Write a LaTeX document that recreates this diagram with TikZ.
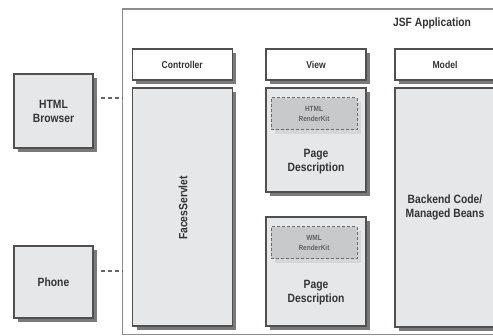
\documentclass[tikz,border=0pt]{standalone}
\usepackage{fontspec}
\usetikzlibrary{shadows}
\newfontfamily\condfont[FakeStretch=0.86]{Liberation Sans}
\definecolor{jsfline}{HTML}{505050}
\definecolor{jsfframe}{HTML}{8C8C8C}
\definecolor{jsffill}{HTML}{E6E7E9}
\definecolor{jsfshade}{HTML}{7A7A7A}
\definecolor{jsfkit}{HTML}{C8C9CB}
\definecolor{jsfkitshade}{HTML}{D6D6D6}
\definecolor{jsftext}{HTML}{333333}

\begin{document}
\begin{tikzpicture}[
  x=1pt, y=-1pt,
  frame/.style={draw=jsfframe, line width=1.2pt, fill=white},
  box/.style={draw=jsfline, line width=1.2pt, fill=jsffill,
    drop shadow={shadow xshift=4pt, shadow yshift=-4pt, fill=jsfshade, opacity=1},
    align=center, text=jsftext, font=\condfont\bfseries\fontsize{12}{14}\selectfont},
  head/.style={box, fill=white, minimum width=100pt, minimum height=31pt,
    font=\condfont\bfseries\fontsize{10}{12}\selectfont},
  kit/.style={draw=jsfline!85, dashed, dash pattern=on 3pt off 2pt, line width=1pt,
    fill=jsfkit, minimum width=86pt, minimum height=32pt, align=center,
    drop shadow={shadow xshift=4pt, shadow yshift=-4pt, fill=jsfkitshade, opacity=1},
    text=black!62, font=\condfont\bfseries\fontsize{7.5}{9.5}\selectfont},
  lab/.style={align=center, text=jsftext, font=\condfont\bfseries\fontsize{12}{14}\selectfont},
  link/.style={draw=black!60, line width=1.4pt, dash pattern=on 4.5pt off 2.5pt}
]

\clip (0,0) rectangle (493,336);

\node[frame, minimum width=397.5pt, minimum height=325.5pt] (app) at (321.25,171.75) {};
\node[lab] (apptitle) at (432,23) {JSF Application};

\node[box, minimum width=79pt, minimum height=74pt] (browser) at (53.5,111) {HTML\\Browser};
\node[box, minimum width=79pt, minimum height=72pt] (phone) at (53.5,282) {Phone};

\node[head] (controller) at (182.25,64.5) {Controller};
\node[head] (view) at (316,64.5) {View};
\node[head] (model) at (445,64.5) {Model};

\node[box, minimum width=99.5pt, minimum height=238pt] (ctrlbody) at (182.5,207) {};
\node[lab, rotate=90] (servlet) at (183,208) {FacesServlet};

\node[box, minimum width=100pt, minimum height=104pt] (page1) at (316,140) {};
\node[kit] (kit1) at (314,114) {HTML\\RenderKit};
\node[lab] (desc1) at (316,162) {Page\\Description};

\node[box, minimum width=100pt, minimum height=109pt] (page2) at (316,271.5) {};
\node[kit] (kit2) at (314,243) {WML\\RenderKit};
\node[lab] (desc2) at (316,293) {Page\\Description};

\node[box, minimum width=100pt, minimum height=239pt] (beans) at (445,207.5)
  {Backend Code/\\Managed Beans};

\coordinate (bport) at ([yshift=13pt]browser.east);
\coordinate (pport) at ([yshift=11pt]phone.east);
\draw[link] ([xshift=7pt]bport) -- (bport -| app.west);
\draw[link] ([xshift=7pt]pport) -- (pport -| app.west);

\end{tikzpicture}
\end{document}
